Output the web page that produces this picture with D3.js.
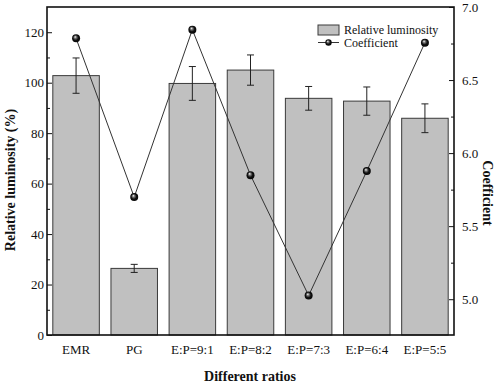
<!DOCTYPE html>
<html><head><meta charset="utf-8">
<script src="https://cdn.jsdelivr.net/npm/d3@7"></script>
<style>body{margin:0;background:#fff}svg{display:block}</style>
</head><body><svg id="c" width="498" height="384"></svg>
<script>
const categories = ["EMR","PG","E:P=9:1","E:P=8:2","E:P=7:3","E:P=6:4","E:P=5:5"];
const luminosity = [102.8, 26.4, 99.7, 105.0, 93.8, 92.7, 85.9];
const luminosityErr = [7.0, 1.6, 6.7, 6.0, 4.7, 5.6, 5.7];
const coefficient = [6.786, 5.699, 6.845, 5.849, 5.025, 5.877, 6.756];
const leftTicks = [0,20,40,60,80,100,120];
const leftMinor = [10,30,50,70,90,110];
const rightTicks = [5.0,5.5,6.0,6.5,7.0];
const rightMinor = [5.25,5.75,6.25,6.75];

const FONT = "'Liberation Serif','Times New Roman',serif";
const svg = d3.select("#c");
const L = 47, R = 454, T = 7, B = 335;
const x = d3.scaleBand().domain(categories).range([L,R]).paddingInner(0.2).paddingOuter(0.1);
const yL = d3.scaleLinear().domain([0,130]).range([B,T]);
const yR = d3.scaleLinear().domain([4.755,7.0]).range([B,T]);

const defs = svg.append("defs");
const g = defs.append("radialGradient").attr("id","ball").attr("cx","50%").attr("cy","50%").attr("r","60%").attr("fx","38%").attr("fy","32%");
g.append("stop").attr("offset","0%").attr("stop-color","#fff");
g.append("stop").attr("offset","25%").attr("stop-color","#777");
g.append("stop").attr("offset","55%").attr("stop-color","#111");
g.append("stop").attr("offset","100%").attr("stop-color","#000");

// bars
svg.append("g").selectAll("rect").data(categories).join("rect")
  .attr("x", d=>x(d)).attr("width", x.bandwidth())
  .attr("y", (d,i)=>yL(luminosity[i])).attr("height",(d,i)=>B-yL(luminosity[i]))
  .attr("fill","#c0c0c0").attr("stroke","#3a3a3a").attr("stroke-width",1);

// error bars
const eb = svg.append("g").attr("stroke","#222").attr("stroke-width",1);
categories.forEach((c,i)=>{
  const cx = x(c)+x.bandwidth()/2;
  const y1 = yL(luminosity[i]+luminosityErr[i]), y2 = yL(luminosity[i]-luminosityErr[i]);
  eb.append("line").attr("x1",cx).attr("x2",cx).attr("y1",y1).attr("y2",y2);
  eb.append("line").attr("x1",cx-3.5).attr("x2",cx+3.5).attr("y1",y1).attr("y2",y1);
  eb.append("line").attr("x1",cx-3.5).attr("x2",cx+3.5).attr("y1",y2).attr("y2",y2);
});

// coefficient line
const line = d3.line().x((d,i)=>x(categories[i])+x.bandwidth()/2).y(d=>yR(d));
svg.append("path").datum(coefficient).attr("d",line).attr("fill","none").attr("stroke","#333").attr("stroke-width",1);
svg.append("g").selectAll("circle").data(coefficient).join("circle")
  .attr("cx",(d,i)=>x(categories[i])+x.bandwidth()/2).attr("cy",d=>yR(d)).attr("r",4)
  .attr("fill","url(#ball)");

// axes
const axL = svg.append("g").attr("transform",`translate(${L},0)`)
  .call(d3.axisLeft(yL).tickValues(leftTicks).tickSize(-5).tickPadding(3).tickFormat(d3.format("d")));
axL.append("g").call(d3.axisLeft(yL).tickValues(leftMinor).tickSize(-3).tickFormat(""));
const axR = svg.append("g").attr("transform",`translate(${R},0)`)
  .call(d3.axisRight(yR).tickValues(rightTicks).tickSize(-5).tickPadding(8).tickFormat(d3.format(".1f")));
axR.append("g").call(d3.axisRight(yR).tickValues(rightMinor).tickSize(-3).tickFormat(""));
const axB = svg.append("g").attr("transform",`translate(0,${B})`)
  .call(d3.axisBottom(x).tickSize(0).tickPadding(10));
[axL,axR,axB].forEach(a=>{
  a.attr("font-family",null).attr("font-size",null);
  a.selectAll(".domain").remove();
  a.selectAll("text").style("font-size","13px").style("font-family",FONT).attr("fill","#111");
  a.selectAll("line").attr("stroke","#111");
});

svg.append("rect").attr("x",L).attr("y",T).attr("width",R-L).attr("height",B-T)
  .attr("fill","none").attr("stroke","#111").attr("stroke-width",1.6);

// titles
function title(sel){return sel.style("font-family",FONT).style("font-size","14px").style("font-weight","bold").attr("fill","#111").attr("text-anchor","middle");}
title(svg.append("text").attr("transform",`translate(15,180) rotate(-90)`)).text("Relative luminosity (%)");
title(svg.append("text").attr("transform",`translate(483,193) rotate(90)`)).text("Coefficient");
title(svg.append("text").attr("x",250).attr("y",381)).text("Different ratios");

// legend
const lg = svg.append("g");
lg.append("rect").attr("x",318).attr("y",25).attr("width",21).attr("height",10).attr("fill","#c0c0c0").attr("stroke","#3a3a3a");
lg.append("text").attr("x",344).attr("y",33.5).style("font-family",FONT).style("font-size","12px").attr("fill","#111").text("Relative luminosity");
lg.append("line").attr("x1",318).attr("x2",339).attr("y1",42.5).attr("y2",42.5).attr("stroke","#333");
lg.append("circle").attr("cx",328.5).attr("cy",42.5).attr("r",3.2).attr("fill","url(#ball)");
lg.append("text").attr("x",344).attr("y",47).style("font-family",FONT).style("font-size","12px").attr("fill","#111").text("Coefficient");
</script></body></html>
